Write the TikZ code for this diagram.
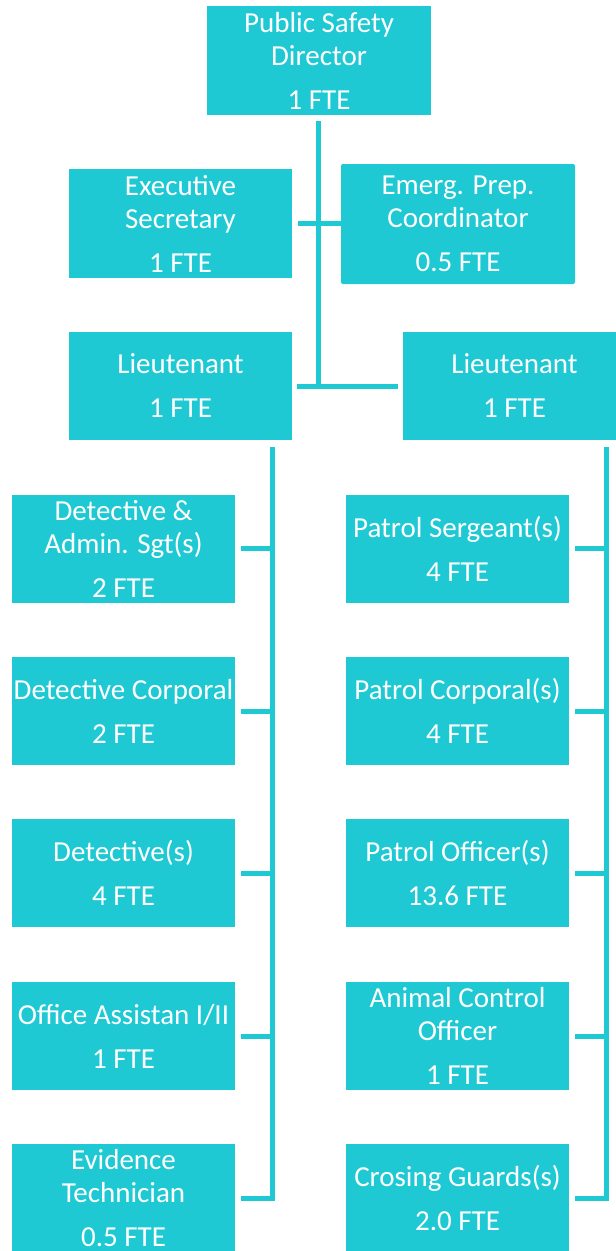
\documentclass[tikz,border=0pt]{standalone}
\usepackage{fontspec}
\setmainfont{Carlito}
\definecolor{boxcyan}{RGB}{31,201,212}
\tikzset{
  unit/.style={fill=boxcyan, text=white, align=center, inner sep=0pt,
    minimum width=223pt, minimum height=108pt,
    font=\fontsize{29}{33}\selectfont},
  link/.style={draw=boxcyan, line width=5pt},
}
\begin{document}
\begin{tikzpicture}[x=1pt,y=-1pt]
\useasboundingbox (0,0) rectangle (616,1251);

% top of the chart
\node[unit, minimum width=224pt, minimum height=109pt] (dir) at (319,60.5)
  {Public Safety\\Director\\[11pt]1 FTE};
\node[unit, minimum height=109pt] (exec) at (180.5,223.5)
  {Executive\\Secretary\\[11pt]1 FTE};
\node[unit, minimum width=234pt, minimum height=120pt, rounded corners=2pt] (emerg) at (458,224)
  {Emerg. Prep.\\Coordinator\\[11pt]0.5 FTE};
\node[unit] (lt1) at (180.5,386) {Lieutenant\\[11pt]1 FTE};
\node[unit] (lt2) at (514.5,386) {Lieutenant\\[11pt]1 FTE};

% investigations column
\node[unit] (das) at (123.5,548.5) {Detective \&\\Admin. Sgt(s)\\[11pt]2 FTE};
\node[unit] (dcp) at (123.5,711) {Detective Corporal\\[11pt]2 FTE};
\node[unit] (det) at (123.5,873) {Detective(s)\\[11pt]4 FTE};
\node[unit] (oas) at (123.5,1036) {Office Assistan I/II\\[11pt]1 FTE};
\node[unit] (evt) at (123.5,1198) {Evidence\\Technician\\[11pt]0.5 FTE};

% patrol column
\node[unit] (psg) at (457.5,548.5) {Patrol Sergeant(s)\\[11pt]4 FTE};
\node[unit] (pcp) at (457.5,711) {Patrol Corporal(s)\\[11pt]4 FTE};
\node[unit] (pof) at (457.5,873) {Patrol Officer(s)\\[11pt]13.6 FTE};
\node[unit] (aco) at (457.5,1036) {Animal Control\\Officer\\[11pt]1 FTE};
\node[unit] (cgd) at (457.5,1198) {Crosing Guards(s)\\[11pt]2.0 FTE};

% main trunk and branches
\draw[link] ([xshift=-1pt,yshift=-6pt]dir.south) -- ([xshift=-1pt]dir.south |- lt1.center);
\draw[link] ([xshift=6pt]exec.east) -- (emerg.west |- exec.east);
\draw[link] ([xshift=5pt]lt1.east) -- ([xshift=-5pt]lt2.west);

% column spines
\coordinate (lspine) at ([xshift=-20pt,yshift=-7pt]lt1.south east);
\coordinate (rspine) at ([xshift=-20pt,yshift=-7pt]lt2.south east);
\draw[link] (lspine) |- ([xshift=6pt]evt.east);
\draw[link] (rspine) |- ([xshift=6pt]cgd.east);
\foreach \n in {das,dcp,det,oas}
  \draw[link] ([xshift=6pt]\n.east) -- (\n.east -| lspine);
\foreach \n in {psg,pcp,pof,aco}
  \draw[link] ([xshift=6pt]\n.east) -- (\n.east -| rspine);
\end{tikzpicture}
\end{document}
